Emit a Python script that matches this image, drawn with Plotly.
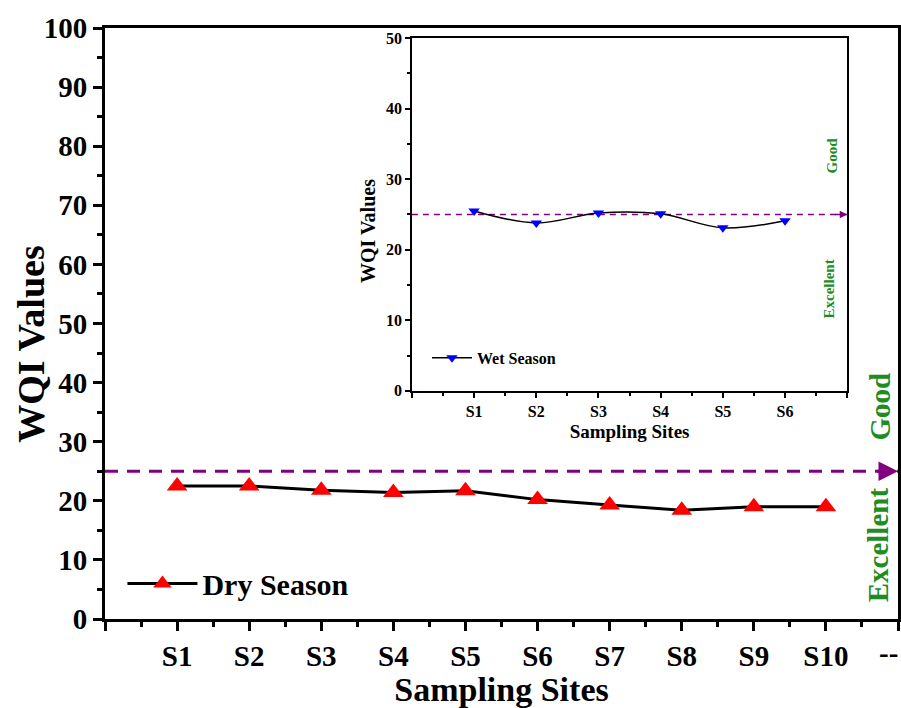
import plotly.graph_objects as go

# ---- data ----
dry_sites = ["S1", "S2", "S3", "S4", "S5", "S6", "S7", "S8", "S9", "S10"]
dry_wqi = [22.5, 22.5, 21.8, 21.4, 21.7, 20.2, 19.3, 18.4, 19.0, 19.0]
wet_sites = ["S1", "S2", "S3", "S4", "S5", "S6"]
wet_wqi = [25.5, 23.8, 25.2, 25.1, 23.1, 24.1]
main_ticktext = [""] + dry_sites + [""]
main_end_label = "--"
inset_ticktext = [""] + wet_sites + [""]
threshold = 25
main_yticks = [0, 10, 20, 30, 40, 50, 60, 70, 80, 90, 100]
inset_yticks = [0, 10, 20, 30, 40, 50]

FONT = "Liberation Serif, Times New Roman, serif"
PURPLE = "#800080"
GREEN = "#1e8c1e"

dry_x = list(range(1, len(dry_sites) + 1))
wet_x = list(range(1, len(wet_sites) + 1))
main_xmax = len(dry_sites) + 1
inset_xmax = len(wet_sites) + 1

fig = go.Figure()

# main threshold line
fig.add_trace(go.Scatter(x=[0, main_xmax], y=[threshold, threshold], mode="lines",
                         line=dict(color=PURPLE, width=3, dash="13px,9px"),
                         showlegend=False, hoverinfo="skip", xaxis="x", yaxis="y"))
# dry season
fig.add_trace(go.Scatter(x=dry_x, y=dry_wqi, mode="lines+markers", name="Dry Season",
                         line=dict(color="black", width=3),
                         marker=dict(symbol="triangle-up", size=18, color="red"),
                         xaxis="x", yaxis="y", legend="legend"))

# inset threshold
fig.add_trace(go.Scatter(x=[0, inset_xmax], y=[threshold, threshold], mode="lines",
                         line=dict(color=PURPLE, width=1.5, dash="6px,5px"),
                         showlegend=False, hoverinfo="skip", xaxis="x2", yaxis="y2"))
# wet season
fig.add_trace(go.Scatter(x=wet_x, y=wet_wqi, mode="lines+markers", name="Wet Season",
                         line=dict(color="black", width=1.5, shape="spline", smoothing=1),
                         marker=dict(symbol="triangle-down", size=10, color="blue"),
                         xaxis="x2", yaxis="y2", legend="legend2"))

main_ax = dict(showline=True, linecolor="black", linewidth=3, mirror=True,
               ticks="outside", tickcolor="black", tickwidth=3, ticklen=9,
               showgrid=False, zeroline=False, automargin=False,
               tickfont=dict(family=FONT, size=29, color="black", weight="bold"))
inset_ax = dict(showline=True, linecolor="black", linewidth=1.5, mirror=True,
                ticks="outside", tickcolor="black", tickwidth=1.5, ticklen=5,
                showgrid=False, zeroline=False, automargin=False,
                tickfont=dict(family=FONT, size=16, color="black", weight="bold"))

fig.update_layout(
    width=901, height=708,
    margin=dict(l=105, r=3, t=28, b=89),
    paper_bgcolor="white", plot_bgcolor="white",
    xaxis=dict(main_ax, range=[0, main_xmax], tickmode="array",
               tickvals=list(range(0, main_xmax + 1)), ticktext=main_ticktext,
               minor=dict(tickmode="linear", tick0=0.5, dtick=1, ticks="outside",
                          ticklen=5, tickwidth=3, tickcolor="black"),
               title=dict(text="Sampling Sites", standoff=8,
                          font=dict(family=FONT, size=34, color="black", weight="bold"))),
    yaxis=dict(main_ax, range=[0, 100], tickmode="array", tickvals=main_yticks,
               minor=dict(tickmode="linear", tick0=5, dtick=10, ticks="outside",
                          ticklen=5, tickwidth=3, tickcolor="black")),
    xaxis2=dict(inset_ax, domain=[0.387, 0.936], anchor="y2", range=[0, inset_xmax],
                tickmode="array", tickvals=list(range(0, inset_xmax + 1)), ticktext=inset_ticktext,
                minor=dict(tickmode="linear", tick0=0.5, dtick=1, ticks="outside",
                           ticklen=3, tickwidth=1.5, tickcolor="black"),
                title=dict(text="Sampling Sites", standoff=6,
                           font=dict(family=FONT, size=19, color="black", weight="bold"))),
    yaxis2=dict(inset_ax, domain=[0.386, 0.983], anchor="x2", range=[0, 50],
                tickmode="array", tickvals=inset_yticks,
                minor=dict(tickmode="linear", tick0=5, dtick=10, ticks="outside",
                           ticklen=3, tickwidth=1.5, tickcolor="black")),
    legend=dict(x=0.022, y=0.06, xanchor="left", yanchor="middle", bgcolor="rgba(0,0,0,0)",
                itemwidth=70,
                font=dict(family=FONT, size=30, color="black", weight="bold")),
    legend2=dict(x=0.406, y=0.442, xanchor="left", yanchor="middle", bgcolor="rgba(0,0,0,0)",
                 itemwidth=40,
                 font=dict(family=FONT, size=16, color="black", weight="bold")),
)

# y axis titles (placed as in the reference, slightly below centre)
fig.add_annotation(x=(31 - 105) / 793, y=0.464, xref="paper", yref="paper",
                   xanchor="center", yanchor="middle",
                   text="WQI Values", showarrow=False, textangle=-90,
                   font=dict(family=FONT, size=38, color="black", weight="bold"))
fig.add_annotation(x=(368 - 105) / 793, y=(619 - 231) / 591, xref="paper", yref="paper",
                   xanchor="center", yanchor="middle",
                   text="WQI Values", showarrow=False, textangle=-90,
                   font=dict(family=FONT, size=20, color="black", weight="bold"))

# last category label of the main axis (kept inside the page)
fig.add_annotation(x=main_xmax, y=-0.058, xref="x", yref="paper", xanchor="right", yanchor="middle",
                   text=main_end_label, showarrow=False, xshift=2,
                   font=dict(family=FONT, size=29, color="black", weight="bold"))

# arrowheads at the end of the threshold lines
fig.add_annotation(x=main_xmax, y=threshold, xref="x", yref="y", ax=-22, ay=0,
                   showarrow=True, arrowhead=2, arrowsize=1.3, arrowwidth=3,
                   arrowcolor=PURPLE, text="")
fig.add_annotation(x=inset_xmax, y=threshold, xref="x2", yref="y2", ax=-14, ay=0,
                   showarrow=True, arrowhead=2, arrowsize=1, arrowwidth=1.5,
                   arrowcolor=PURPLE, text="")

# category labels
fig.add_annotation(x=0.977, y=0.359, xref="paper", yref="paper", xanchor="center", yanchor="middle",
                   text="Good", showarrow=False, textangle=-90,
                   font=dict(family=FONT, size=29, color=GREEN, weight="bold"))
fig.add_annotation(x=0.975, y=0.125, xref="paper", yref="paper", xanchor="center", yanchor="middle",
                   text="Excellent", showarrow=False, textangle=-90,
                   font=dict(family=FONT, size=29, color=GREEN, weight="bold"))
fig.add_annotation(x=6.76, y=33.4, xref="x2", yref="y2", xanchor="center", yanchor="middle",
                   text="Good", showarrow=False, textangle=-90,
                   font=dict(family=FONT, size=15, color=GREEN, weight="bold"))
fig.add_annotation(x=6.71, y=14.4, xref="x2", yref="y2", xanchor="center", yanchor="middle",
                   text="Excellent", showarrow=False, textangle=-90,
                   font=dict(family=FONT, size=15, color=GREEN, weight="bold"))

fig.write_html("out.html")
